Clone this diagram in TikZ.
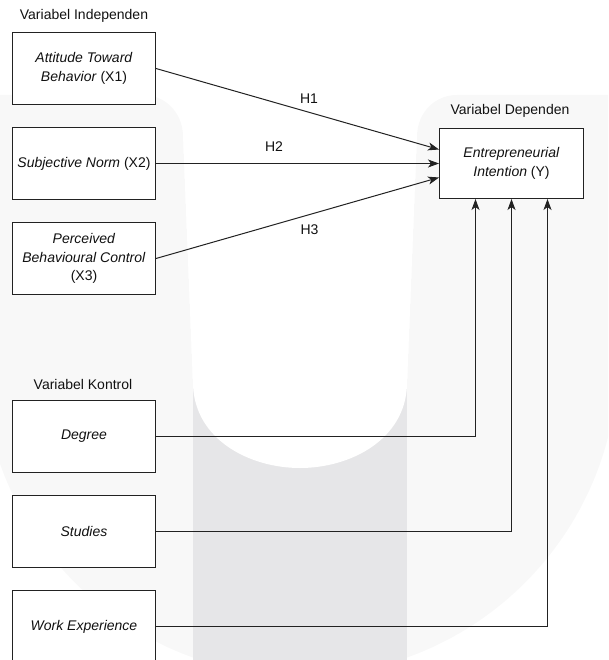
\documentclass[tikz,border=0pt]{standalone}
\usepackage{fontspec}
\setmainfont{Liberation Sans}
\usetikzlibrary{arrows.meta}
\definecolor{wmlight}{HTML}{F8F8F8}
\definecolor{wmdark}{HTML}{E6E6E8}
\definecolor{linec}{HTML}{222222}
\definecolor{textc}{HTML}{111111}
\begin{document}
\begin{tikzpicture}[x=1pt,y=-1pt,
  box/.style={draw=linec, line width=1pt, fill=white, minimum width=143pt, minimum height=72pt, inner sep=2pt, align=center, text=textc, font=\fontsize{14}{18.5}\selectfont},
  lbl/.style={font=\fontsize{14}{17}\selectfont, text=textc, inner sep=0pt},
  conn/.style={draw=linec, line width=1pt, -{Stealth[length=11pt,width=8pt,inset=3pt]}}]
\useasboundingbox (0,0) rectangle (608,660);
\clip (0,0) rectangle (608,660);
% watermark
\fill[wmlight] (-20,95) -- (143,95) .. controls (165,95) and (182,112) .. (183,135)
  -- (193,385) .. controls (195,440) and (250,468) .. (300,468)
  .. controls (350,468) and (405,440) .. (407,385)
  -- (417,135) .. controls (418,112) and (435,95) .. (457,95)
  -- (620,95) -- (618,358)
  .. controls (618,533.6) and (475.6,676) .. (300,676)
  .. controls (124.4,676) and (-18,533.6) .. (-18,358) -- cycle;
\fill[wmdark] (193,380) rectangle (407,680);
\fill[white] (183,-5) -- (183,135) -- (193,385) .. controls (195,440) and (250,468) .. (300,468)
  .. controls (350,468) and (405,440) .. (407,385) -- (417,135) -- (417,-5) -- cycle;
% nodes
\node[lbl] (lind) at (84,16) {Variabel Independen};
\node[box] (x1) at (84,68.5) {\textit{Attitude Toward}\\\textit{Behavior} (X1)};
\node[box] (x2) at (84,163.5) {\textit{Subjective Norm} (X2)};
\node[box] (x3) at (84,258.5) {\textit{Perceived}\\\textit{Behavioural Control}\\(X3)};
\node[lbl] (lkon) at (83,384) {Variabel Kontrol};
\node[box] (c1) at (84,436.5) {\textit{Degree}};
\node[box] (c2) at (84,531.5) {\textit{Studies}};
\node[box] (c3) at (84,626.5) {\textit{Work Experience}};
\node[lbl] (ldep) at (510,111) {Variabel Dependen};
\node[box, minimum width=144pt, minimum height=70pt] (y) at (511.5,163.5) {\textit{Entrepreneurial}\\\textit{Intention} (Y)};
% connectors
\draw[conn] (x1.east) -- ([yshift=14pt]y.west);
\draw[conn] (x2.east) -- (y.west);
\draw[conn] (x3.east) -- ([yshift=-14pt]y.west);
\node[lbl] (h1) at (309,99) {H1};
\node[lbl] (h2) at (274,147) {H2};
\node[lbl] (h3) at (309.5,230) {H3};
\draw[conn] (c1.east) -| ([xshift=-36pt]y.south);
\draw[conn] (c2.east) -| (y.south);
\draw[conn] (c3.east) -| ([xshift=36pt]y.south);
\end{tikzpicture}
\end{document}
